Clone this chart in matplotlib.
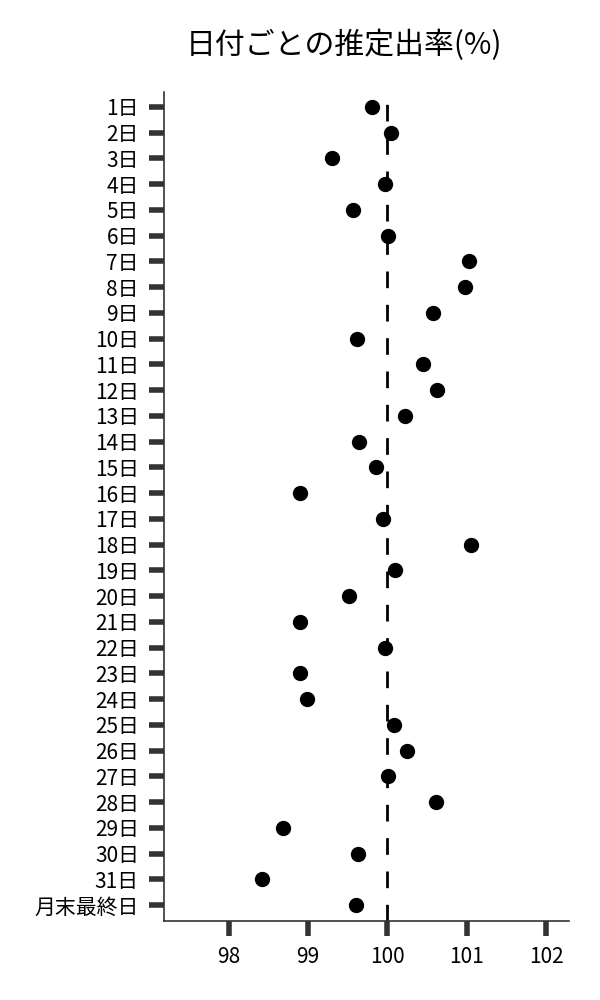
import numpy as np
import matplotlib
matplotlib.use('Agg')
import matplotlib.pyplot as plt

plt.rcParams['font.family'] = ['Noto Sans CJK JP', 'DejaVu Sans']

# data
days = [f'{i}日' for i in range(1, 32)] + ['月末最終日']
rate = [99.80, 100.04, 99.30, 99.97, 99.56, 100.01, 101.03, 100.98, 100.57, 99.61,
        100.45, 100.62, 100.22, 99.64, 99.85, 98.90, 99.94, 101.06, 100.10, 99.51,
        98.90, 99.97, 98.90, 98.99, 100.08, 100.24, 100.01, 100.61, 98.68, 99.63,
        98.42, 99.60]
ref_line = 100
xticks = [98, 99, 100, 101, 102]

fig = plt.figure(figsize=(6, 10), dpi=100)
ax = fig.add_axes([0.2733, 0.079, 0.675, 0.829])

ypos = np.arange(len(days))
ax.plot(rate, ypos, 'o', color='black', ms=10, zorder=3)
ax.axvline(ref_line, ymin=0, ymax=0.985, color='black', lw=2.0, ls=(0, (6, 6)), zorder=2)

ax.set_yticks(ypos)
ax.set_yticklabels(days)
ax.set_ylim(len(days) - 1 + 0.62, -0.58)
ax.set_xticks(xticks)
ax.set_xlim(97.18, 102.29)

for s in ['top', 'right']:
    ax.spines[s].set_visible(False)
for s in ['left', 'bottom']:
    ax.spines[s].set_color('#333333')
    ax.spines[s].set_linewidth(1.2)
ax.tick_params(axis='both', length=11, width=4, color='#333333', labelsize=15, pad=7)

fig.text(344 / 600, 0.955, '日付ごとの推定出率(%)', ha='center', va='center', fontsize=21.5)

fig.savefig('out.png', dpi=100)
